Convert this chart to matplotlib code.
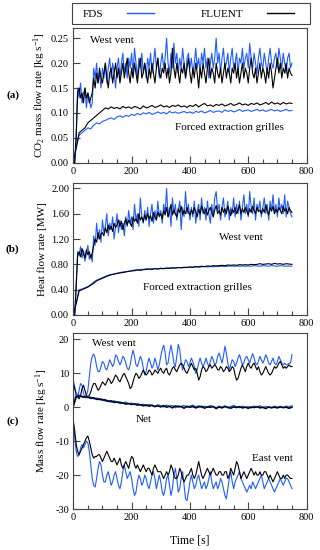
import numpy as np
import matplotlib.pyplot as plt
from matplotlib.ticker import MultipleLocator, FormatStrFormatter
from matplotlib.patches import Rectangle

plt.rcParams['font.family'] = ['Liberation Serif', 'DejaVu Serif']
plt.rcParams['mathtext.fontset'] = 'custom'
plt.rcParams['mathtext.rm'] = 'Liberation Serif'
plt.rcParams['mathtext.it'] = 'Liberation Serif:italic'
plt.rcParams['axes.unicode_minus'] = False

blue = '#1f5cff'
black = '#000000'
frame = '#444444'

# time bases [s]
t5 = np.arange(0, 751, 5)
t10 = np.arange(0, 751, 10)

# (a) CO2 mass flow rate [kg/s], west vent, every 5 s
co2_west_fds = [
    0, 0, 0.06, 0.15, 0.13, 0.16, 0.12, 0.14, 0.15, 0.11,
    0.14, 0.13, 0.11, 0.12, 0.19, 0.17, 0.20, 0.16, 0.18, 0.15,
    0.19, 0.17, 0.20, 0.16, 0.19, 0.21, 0.17, 0.20, 0.18, 0.15,
    0.19, 0.21, 0.17, 0.20, 0.22, 0.18, 0.20, 0.17, 0.21, 0.19,
    0.22, 0.18, 0.23, 0.20, 0.17, 0.21, 0.19, 0.22, 0.18, 0.20,
    0.17, 0.21, 0.19, 0.22, 0.18, 0.20, 0.23, 0.19, 0.21, 0.17,
    0.20, 0.22, 0.19, 0.21, 0.25, 0.20, 0.18, 0.22, 0.19, 0.24,
    0.20, 0.22, 0.18, 0.21, 0.19, 0.23, 0.20, 0.17, 0.21, 0.22,
    0.19, 0.21, 0.18, 0.20, 0.23, 0.19, 0.21, 0.18, 0.22, 0.20,
    0.23, 0.19, 0.21, 0.17, 0.20, 0.22, 0.19, 0.21, 0.25, 0.20,
    0.22, 0.18, 0.21, 0.23, 0.19, 0.20, 0.22, 0.18, 0.21, 0.23,
    0.19, 0.20, 0.22, 0.18, 0.21, 0.20, 0.23, 0.19, 0.21, 0.22,
    0.19, 0.24, 0.21, 0.19, 0.22, 0.20, 0.18, 0.21, 0.23, 0.20,
    0.19, 0.22, 0.20, 0.18, 0.21, 0.23, 0.20, 0.19, 0.21, 0.22,
    0.19, 0.23, 0.21, 0.19, 0.22, 0.20, 0.18, 0.21, 0.22, 0.19,
    0.20]
co2_west_fluent = [
    0, 0, 0.05, 0.14, 0.15, 0.13, 0.14, 0.12, 0.15, 0.13,
    0.14, 0.12, 0.13, 0.14, 0.17, 0.15, 0.18, 0.16, 0.19, 0.17,
    0.16, 0.18, 0.20, 0.17, 0.15, 0.18, 0.19, 0.16, 0.18, 0.20,
    0.17, 0.19, 0.16, 0.18, 0.20, 0.17, 0.19, 0.21, 0.18, 0.16,
    0.19, 0.17, 0.20, 0.18, 0.16, 0.19, 0.21, 0.17, 0.18, 0.20,
    0.18, 0.16, 0.19, 0.17, 0.20, 0.18, 0.16, 0.19, 0.21, 0.18,
    0.17, 0.19, 0.18, 0.20, 0.17, 0.19, 0.16, 0.18, 0.23, 0.19,
    0.17, 0.20, 0.18, 0.16, 0.19, 0.18, 0.20, 0.17, 0.19, 0.21,
    0.18, 0.16, 0.19, 0.17, 0.20, 0.18, 0.15, 0.19, 0.17, 0.20,
    0.18, 0.16, 0.19, 0.21, 0.17, 0.19, 0.18, 0.16, 0.20, 0.18,
    0.17, 0.19, 0.16, 0.18, 0.20, 0.17, 0.19, 0.18, 0.16, 0.19,
    0.18, 0.20, 0.17, 0.19, 0.16, 0.18, 0.20, 0.17, 0.19, 0.18,
    0.16, 0.19, 0.21, 0.18, 0.17, 0.19, 0.16, 0.18, 0.20, 0.17,
    0.19, 0.18, 0.16, 0.19, 0.17, 0.20, 0.18, 0.15, 0.17, 0.19,
    0.21, 0.18, 0.20, 0.17, 0.19, 0.18, 0.20, 0.17, 0.19, 0.18,
    0.175]

# (a) forced extraction grilles, every 10 s
co2_grille_fds = [
    0, 0.03, 0.055, 0.06, 0.065, 0.07, 0.068, 0.075, 0.08, 0.078,
    0.083, 0.085, 0.088, 0.09, 0.087, 0.092, 0.094, 0.091, 0.095, 0.093,
    0.097, 0.095, 0.099, 0.096, 0.1, 0.098, 0.101, 0.097, 0.099, 0.102,
    0.099, 0.101, 0.098, 0.103, 0.1, 0.102, 0.099, 0.101, 0.103, 0.1,
    0.102, 0.099, 0.103, 0.101, 0.104, 0.1, 0.102, 0.105, 0.101, 0.103,
    0.104, 0.101, 0.106, 0.103, 0.105, 0.102, 0.104, 0.107, 0.103, 0.105,
    0.106, 0.103, 0.105, 0.107, 0.104, 0.106, 0.103, 0.105, 0.107, 0.104,
    0.106, 0.103, 0.105, 0.107, 0.104, 0.105]
co2_grille_fluent = [
    0, 0.03, 0.06, 0.065, 0.07, 0.08, 0.085, 0.09, 0.095, 0.1,
    0.105, 0.11, 0.108, 0.112, 0.109, 0.111, 0.108, 0.113, 0.11, 0.112,
    0.109, 0.113, 0.111, 0.108, 0.114, 0.11, 0.112, 0.115, 0.111, 0.113,
    0.116, 0.112, 0.114, 0.111, 0.115, 0.113, 0.116, 0.112, 0.114, 0.111,
    0.115, 0.113, 0.117, 0.112, 0.116, 0.119, 0.114, 0.116, 0.113, 0.117,
    0.115, 0.118, 0.114, 0.116, 0.119, 0.115, 0.117, 0.12, 0.116, 0.118,
    0.115, 0.119, 0.117, 0.12, 0.116, 0.118, 0.121, 0.117, 0.122, 0.118,
    0.12, 0.117, 0.121, 0.118, 0.12, 0.119]

# (b) heat flow rate [MW], west vent, every 5 s
heat_west_fds = [
    0, 0, 0.5, 1.0, 0.93, 1.08, 0.9, 1.02, 0.85, 0.98,
    1.1, 0.88, 0.95, 0.84, 1.25, 1.1, 1.45, 1.2, 1.35, 1.15,
    1.5, 1.3, 1.4, 1.6, 1.25, 1.45, 1.35, 1.55, 1.2, 1.4,
    1.6, 1.3, 1.5, 1.35, 1.45, 1.25, 1.55, 1.4, 1.65, 1.45,
    1.55, 1.35, 1.75, 1.5, 1.6, 1.4, 1.85, 1.55, 1.45, 1.65,
    1.5, 1.7, 1.4, 1.6, 1.75, 1.45, 1.65, 1.5, 1.8, 1.55,
    1.65, 1.45, 1.75, 1.6, 2.0, 1.55, 1.7, 1.4, 1.85, 1.6,
    1.75, 1.5, 1.65, 1.8, 1.35, 1.7, 1.55, 1.95, 1.6, 1.75,
    1.5, 1.7, 1.55, 1.8, 1.45, 1.65, 1.75, 1.5, 1.85, 1.6,
    1.7, 1.5, 1.8, 1.6, 1.45, 1.75, 1.55, 1.85, 1.95, 1.65,
    1.75, 1.5, 1.7, 1.85, 1.55, 1.65, 1.8, 1.5, 1.7, 1.6,
    1.85, 1.55, 1.75, 1.6, 1.8, 1.5, 1.7, 1.9, 1.6, 1.75,
    1.55, 1.95, 1.7, 1.6, 1.85, 1.5, 1.75, 1.65, 1.8, 1.55,
    1.7, 1.85, 1.6, 1.75, 1.5, 1.8, 1.65, 1.9, 1.6, 1.75,
    1.55, 1.85, 1.65, 1.75, 1.6, 1.9, 1.55, 1.8, 1.7, 1.6,
    1.55]
heat_west_fluent = [
    0, 0, 0.45, 0.95, 1.0, 0.92, 1.05, 0.97, 0.9, 1.03,
    0.95, 1.0, 0.9, 0.98, 1.1, 1.2, 1.15, 1.3, 1.2, 1.28,
    1.3, 1.25, 1.38, 1.3, 1.42, 1.35, 1.4, 1.32, 1.45, 1.38,
    1.42, 1.5, 1.4, 1.48, 1.35, 1.45, 1.52, 1.42, 1.5, 1.45,
    1.4, 1.55, 1.48, 1.52, 1.45, 1.6, 1.5, 1.55, 1.47, 1.58,
    1.5, 1.6, 1.52, 1.57, 1.48, 1.62, 1.55, 1.5, 1.63, 1.56,
    1.6, 1.52, 1.65, 1.58, 1.7, 1.55, 1.62, 1.75, 1.58, 1.66,
    1.6, 1.55, 1.68, 1.62, 1.72, 1.58, 1.65, 1.6, 1.7, 1.62,
    1.58, 1.66, 1.6, 1.7, 1.63, 1.55, 1.67, 1.6, 1.72, 1.64,
    1.6, 1.68, 1.58, 1.65, 1.7, 1.62, 1.55, 1.66, 1.73, 1.6,
    1.65, 1.58, 1.7, 1.62, 1.68, 1.6, 1.72, 1.64, 1.57, 1.67,
    1.62, 1.7, 1.6, 1.66, 1.74, 1.6, 1.68, 1.62, 1.7, 1.64,
    1.58, 1.68, 1.62, 1.72, 1.65, 1.6, 1.7, 1.63, 1.66, 1.6,
    1.68, 1.62, 1.74, 1.65, 1.58, 1.7, 1.64, 1.72, 1.6, 1.67,
    1.62, 1.7, 1.65, 1.6, 1.72, 1.64, 1.68, 1.6, 1.7, 1.65,
    1.62]

# (b) forced extraction grilles, every 10 s
heat_grille_fds = [
    0, 0.2, 0.4, 0.41, 0.43, 0.45, 0.48, 0.52, 0.55, 0.57,
    0.59, 0.61, 0.63, 0.64, 0.65, 0.66, 0.67, 0.68, 0.685, 0.69,
    0.7, 0.71, 0.715, 0.72, 0.72, 0.73, 0.725, 0.73, 0.735, 0.73,
    0.74, 0.735, 0.74, 0.745, 0.74, 0.75, 0.745, 0.75, 0.745, 0.755,
    0.75, 0.755, 0.76, 0.755, 0.76, 0.765, 0.76, 0.765, 0.76, 0.77,
    0.765, 0.77, 0.765, 0.77, 0.775, 0.77, 0.775, 0.77, 0.775, 0.77,
    0.775, 0.77, 0.78, 0.775, 0.77, 0.78, 0.775, 0.77, 0.78, 0.775,
    0.77, 0.78, 0.775, 0.77, 0.775, 0.77]
heat_grille_fluent = [
    0, 0.18, 0.38, 0.4, 0.42, 0.44, 0.47, 0.5, 0.54, 0.56,
    0.58, 0.6, 0.62, 0.635, 0.645, 0.655, 0.665, 0.67, 0.68, 0.69,
    0.695, 0.7, 0.71, 0.705, 0.715, 0.72, 0.725, 0.72, 0.73, 0.725,
    0.735, 0.73, 0.74, 0.735, 0.745, 0.74, 0.75, 0.745, 0.755, 0.75,
    0.76, 0.755, 0.765, 0.76, 0.77, 0.765, 0.775, 0.77, 0.78, 0.775,
    0.78, 0.785, 0.78, 0.79, 0.785, 0.79, 0.785, 0.795, 0.79, 0.795,
    0.79, 0.8, 0.795, 0.8, 0.81, 0.8, 0.805, 0.81, 0.8, 0.815,
    0.805, 0.81, 0.8, 0.81, 0.805, 0.8]

# (c) mass flow rate [kg/s], every 5 s
mass_west_fds = [
    8, 6, 3.5, 3, 5, 7, 6.5, 4, 3, 3.5,
    5, 9, 13, 15, 15.7, 14.5, 12, 10.5, 10.5, 12,
    13.5, 13, 11.5, 11, 12.5, 14, 13, 12, 13, 15.4,
    15, 13.5, 12.5, 13.5, 15, 14.5, 13, 11.5, 11, 12.5,
    15, 16.8, 15, 12.5, 12, 13.5, 15, 14, 11.5, 9.5,
    10.5, 13, 14.5, 13, 11.5, 12.5, 14.5, 13, 11, 12.5,
    15, 17, 18.3, 16, 12.5, 13, 16, 18.3, 16, 13,
    12, 15, 18.5, 17, 13, 11, 12.5, 14, 13.5, 12,
    13, 14.5, 13.5, 12, 10, 11, 13, 14.5, 13, 12,
    13, 14.5, 13, 12, 13.5, 15, 14, 12.5, 13, 15,
    16, 14.5, 13, 15, 18, 16, 13, 11, 12.5, 14,
    13.5, 12, 13, 14.5, 15.5, 14, 12.5, 13, 14.5, 15,
    14, 13, 14.5, 15.8, 14.5, 13, 12.5, 13.5, 15, 14,
    13, 14, 15.5, 14.5, 13, 12.5, 13.5, 14.5, 13, 12.5,
    13.5, 15, 14, 13, 12.5, 13, 12.5, 12.5, 13, 13,
    15.5]
mass_west_fluent = [
    7, 5.5, 4, 3, 2.5, 3.5, 5.5, 6.5, 5, 3.5,
    3, 3.5, 4.5, 6, 7, 7, 6, 5, 5.5, 6.5,
    7.5, 7, 6.5, 7.5, 8.5, 8, 7, 7.5, 8.5, 9.5,
    9, 8, 7.5, 8.5, 9.5, 10, 9, 8, 7, 5.5,
    6, 7.5, 9, 10, 9.5, 8.5, 9, 10, 11, 10,
    9.5, 10, 11, 10.5, 9.5, 10, 11, 10.5, 10, 11,
    11.5, 10.5, 10, 11, 11.5, 10, 9.5, 10.5, 11.5, 12,
    11, 10.5, 11.5, 12.5, 13, 12.5, 11.5, 10.5, 10, 11,
    12, 13, 12, 11, 11.5, 10, 8, 9, 11, 12,
    11.5, 10.5, 11, 12, 12.5, 11.5, 12, 12.5, 12, 11,
    11, 12, 11.5, 10.5, 11, 12, 11.5, 10.5, 11, 12,
    11.5, 9.5, 8, 8.5, 10, 11.5, 12.5, 11.5, 10.5, 12,
    13, 12, 11.5, 12.5, 13, 12, 11, 12, 10.5, 9.5,
    10, 11, 12, 11, 10, 9.5, 10, 11, 12, 11.5,
    12, 13, 13.5, 12.5, 11.5, 12, 11.5, 12, 12.5, 12,
    12]
mass_east_fds = [
    -4, -9, -13, -14.5, -14, -12, -11, -12, -11, -10,
    -10.5, -13, -17, -21, -23, -23.5, -21, -18, -16, -17,
    -20, -22, -22, -20, -19, -21, -23, -22, -20, -19,
    -21, -23, -24, -22, -19, -17, -19, -21, -20, -19,
    -21, -24, -26, -25, -22, -20, -21, -23, -22, -20,
    -21, -23, -24, -22, -20, -19, -21, -24, -22, -20,
    -22, -25, -26, -24, -21, -20, -23, -26, -24, -20,
    -18, -21, -25, -24, -21, -19, -23, -27, -27.5, -25,
    -22, -20, -22, -24, -23, -21, -20, -22, -24, -23,
    -22, -24, -23, -21, -19, -22, -24, -23, -22, -24,
    -23, -21, -22, -24, -26, -27, -24, -21, -19, -22,
    -24, -22, -21, -20, -19, -21, -22, -23, -24, -25,
    -24, -23, -24, -22, -23, -24, -23, -22, -21, -20,
    -22, -24, -23, -22, -21, -22, -23, -24, -25, -24,
    -23, -22, -21, -22, -23, -22, -21, -21, -22, -23,
    -24]
mass_east_fluent = [
    -4, -7, -11, -13, -14, -13, -12, -11, -10, -9,
    -8.5, -10, -12, -14, -15, -14.5, -14.5, -14, -14, -15,
    -16, -15, -14, -13, -14, -15, -16, -16, -15, -16,
    -17, -16, -15, -17, -18, -17, -16, -17, -18, -16,
    -14.5, -15, -17, -18, -17, -18, -19, -18, -17, -18,
    -19, -18, -18, -19, -20, -18, -17, -18, -19, -19,
    -19, -20, -21, -20, -19, -20, -19, -17, -18, -20,
    -21, -21, -20, -18, -19, -21, -22, -21, -20, -20,
    -19, -18, -20, -21, -20, -18, -16, -18, -20, -21,
    -20, -19, -18, -19, -20, -19, -18, -19, -20, -20,
    -19, -19, -20, -20, -19, -19, -21, -20, -18, -19,
    -20, -18, -16, -17, -19, -21, -20, -19, -20, -21,
    -20, -19, -18, -19, -20, -19, -20, -20, -19, -20,
    -20, -19, -19, -20, -21, -20, -21, -22, -21, -20,
    -19, -20, -21, -21, -20, -21, -20, -20, -20.5, -21,
    -21]

# (c) net mass flow, every 10 s
mass_net_fds = [
    0.5, 4, 3.5, 3, 3.2, 2.8, 3, 2.5, 2.7, 2.2,
    2.4, 1.8, 2.0, 1.5, 1.9, 1.4, 1.6, 1.2, 1.5, 1.0,
    1.2, 0.8, 1.1, 0.6, 0.9, 0.4, 0.8, 0.5, 0.2, 0.7,
    0.4, 0.1, 0.6, 0.2, 0.5, -0.1, 0.4, 0.2, 0.5, 0.0,
    0.3, 0.6, 0.1, 0.4, -0.1, 0.3, 0.0, 0.5, 0.2, -0.2,
    0.3, 0.0, 0.4, -0.2, 0.2, 0.5, 0.1, -0.1, 0.3, 0.0,
    0.2, -0.2, 0.3, 0.0, 0.4, -0.1, 0.2, 0.0, -0.2, 0.3,
    0.0, 0.2, -0.1, 0.3, 0.1, 0.4]
mass_net_fluent = [
    0.2, 3, 3.4, 3.2, 2.9, 3.1, 2.6, 2.8, 2.3, 2.5,
    2.1, 2.2, 1.7, 1.9, 1.4, 1.6, 1.2, 1.3, 0.9, 1.1,
    0.8, 1.0, 0.6, 0.8, 0.4, 0.7, 0.3, 0.6, 0.2, 0.4,
    0.1, 0.5, 0.0, 0.3, -0.2, 0.4, 0.1, 0.2, -0.3, 0.3,
    0.0, 0.2, -0.2, 0.1, 0.3, -0.3, 0.1, 0.0, 0.2, -0.4,
    0.1, -0.2, 0.2, 0.0, -0.3, 0.1, -0.1, 0.2, -0.2, 0.0,
    -0.3, 0.1, -0.1, 0.2, -0.2, 0.0, -0.4, 0.1, -0.1, 0.0,
    -0.2, 0.1, -0.1, 0.0, -0.3, 0.0]

fig = plt.figure(figsize=(3.2, 5.5), dpi=100)

ax_a = fig.add_axes([0.229, 0.7042, 0.729, 0.2444])
ax_b = fig.add_axes([0.229, 0.4273, 0.729, 0.2405])
ax_c = fig.add_axes([0.229, 0.0745, 0.729, 0.3195])

lw = 0.8

# panel (a)
ax_a.plot(t5, co2_west_fds, color=blue, lw=lw)
ax_a.plot(t5, co2_west_fluent, color=black, lw=lw)
ax_a.plot(t10, co2_grille_fds, color=blue, lw=lw)
ax_a.plot(t10, co2_grille_fluent, color=black, lw=lw)
ax_a.set_ylim(0, 0.27)
ax_a.yaxis.set_major_locator(MultipleLocator(0.05))
ax_a.yaxis.set_major_formatter(FormatStrFormatter('%.2f'))
ax_a.set_ylabel('CO$_2$ mass flow rate [kg s$^{-1}$]', fontsize=8)
ax_a.yaxis.set_label_coords(-0.108, 0.5)
ax_a.text(57, 0.245, 'West vent', fontsize=8, va='center')
ax_a.text(348, 0.070, 'Forced extraction grilles', fontsize=8, va='center')

# panel (b)
ax_b.plot(t5, heat_west_fds, color=blue, lw=lw)
ax_b.plot(t5, heat_west_fluent, color=black, lw=lw)
ax_b.plot(t10, heat_grille_fds, color=blue, lw=lw)
ax_b.plot(t10, heat_grille_fluent, color=black, lw=lw)
ax_b.set_ylim(0, 2.09)
ax_b.yaxis.set_major_locator(MultipleLocator(0.4))
ax_b.yaxis.set_major_formatter(FormatStrFormatter('%.2f'))
ax_b.set_ylabel('Heat flow rate [MW]', fontsize=8)
ax_b.yaxis.set_label_coords(-0.113, 0.5)
ax_b.text(499, 1.227, 'West vent', fontsize=8, va='center')
ax_b.text(239, 0.431, 'Forced extraction grilles', fontsize=8, va='center')

# panel (c)
ax_c.plot(t5, mass_west_fds, color=blue, lw=lw)
ax_c.plot(t5, mass_west_fluent, color=black, lw=lw)
ax_c.plot(t10, mass_net_fds, color=blue, lw=1.1)
ax_c.plot(t10, mass_net_fluent, color=black, lw=1.1)
ax_c.plot(t5, mass_east_fds, color=blue, lw=lw)
ax_c.plot(t5, mass_east_fluent, color=black, lw=lw)
ax_c.set_ylim(-30, 21.8)
ax_c.yaxis.set_major_locator(MultipleLocator(10))
ax_c.set_ylabel('Mass flow rate [kg s$^{-1}$]', fontsize=8)
ax_c.yaxis.set_label_coords(-0.10, 0.5)
ax_c.set_xlabel('Time [s]', fontsize=8.5, labelpad=9)
ax_c.text(64, 18.8, 'West vent', fontsize=8, va='center')
ax_c.text(215, -3.6, 'Net', fontsize=8, va='center')
ax_c.text(613, -15.1, 'East vent', fontsize=8, va='center')

# common axis styling
for ax in (ax_a, ax_b, ax_c):
    ax.set_xlim(0, 800)
    ax.xaxis.set_major_locator(MultipleLocator(200))
    ax.xaxis.set_minor_locator(MultipleLocator(50))
    ax.tick_params(which='both', direction='in', top=False, right=False,
                   labelsize=7.5, colors=frame, labelcolor='black', pad=3)
    ax.tick_params(which='major', length=5, width=0.8)
    ax.tick_params(which='minor', length=3, width=0.8)
    for s in ax.spines.values():
        s.set_color(frame)
        s.set_linewidth(0.8)

# panel letters
for ax, lab in ((ax_a, '(a)'), (ax_b, '(b)'), (ax_c, '(c)')):
    ax.text(-0.26, 0.5, lab, transform=ax.transAxes, fontsize=8,
            fontweight='bold', ha='center', va='center')

# legend: frame box plus entries placed inside it
fig.patches.append(Rectangle((72.3 / 320, 1 - 24 / 550), 237.7 / 320, 20.7 / 550,
                             transform=fig.transFigure, fill=False,
                             edgecolor=frame, lw=0.8))
h_fds, = ax_a.plot([], [], color=blue, lw=1)
h_flu, = ax_a.plot([], [], color=black, lw=1)
leg = fig.legend([h_fds, h_flu], ['FDS', 'FLUENT'], ncol=2, markerfirst=False,
                 loc='center left', bbox_to_anchor=(83 / 320, 1 - 20 / 550, 211 / 320, 12 / 550),
                 mode='expand', fontsize=8, frameon=False,
                 handlelength=2.45, borderaxespad=0, borderpad=0,
                 handletextpad=2.1, columnspacing=3.0)

fig.savefig('out.png', dpi=100)
